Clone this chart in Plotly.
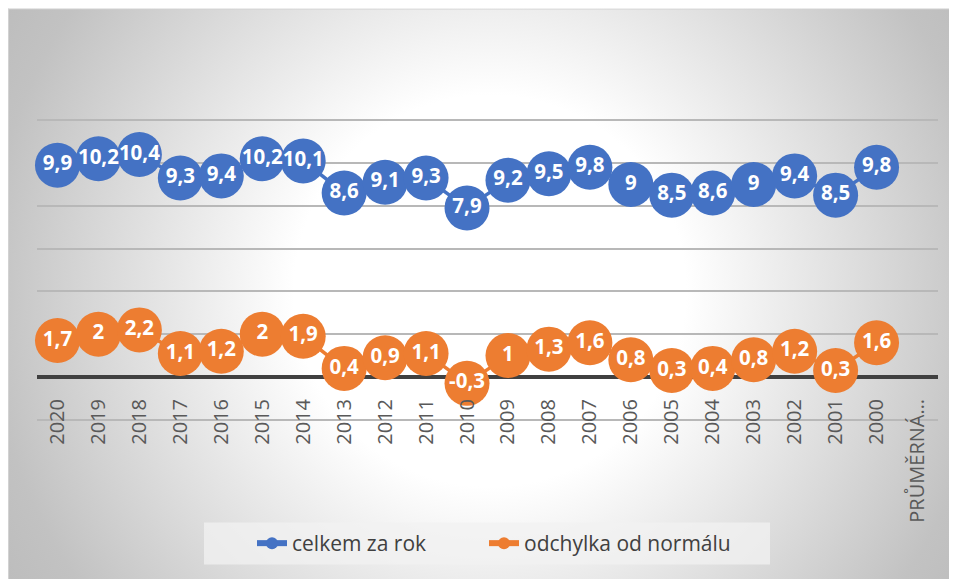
import base64
import plotly.graph_objs as go

# data
roky = ["2020", "2019", "2018", "2017", "2016", "2015", "2014", "2013", "2012", "2011",
        "2010", "2009", "2008", "2007", "2006", "2005", "2004", "2003", "2002", "2001",
        "2000", "PRŮMĚRNÁ…"]
celkem = [9.9, 10.2, 10.4, 9.3, 9.4, 10.2, 10.1, 8.6, 9.1, 9.3,
          7.9, 9.2, 9.5, 9.8, 9, 8.5, 8.6, 9, 9.4, 8.5,
          9.8, None]
odchylka = [1.7, 2, 2.2, 1.1, 1.2, 2, 1.9, 0.4, 0.9, 1.1,
            -0.3, 1, 1.3, 1.6, 0.8, 0.3, 0.4, 0.8, 1.2, 0.3,
            1.6, None]

nazvy = ["celkem za rok", "odchylka od normálu"]
barvy = ["#4472C4", "#ED7D31"]

W, H = 957, 579
OFF = 8  # page body margin, figure starts at (8, 8) on the page
grid_col = "#b8b8b8"

# y axis: 12 at page y=120, -2 at page y=420; pad a little so edge gridlines show
y_lo, y_hi, pad = -2, 12, 0.2
unit = (420 - 120) / (y_hi - y_lo)
L, R = 37, 938
T = 120 - pad * unit
B = 420 + pad * unit
pw, ph = R - L, B - T


def label(v):
    if v is None:
        return ""
    return f"{v:g}".replace(".", ",")


def px(xp):
    return (xp - L) / pw


def py(yp):
    return (B - yp) / ph


# radial gradient background of the chart area (like excel)
svg = f'''<svg xmlns="http://www.w3.org/2000/svg" width="{W}" height="{H}" viewBox="0 0 {W} {H}" preserveAspectRatio="none">
<defs><radialGradient id="g" gradientUnits="userSpaceOnUse" cx="482" cy="283" r="560">
<stop offset="0" stop-color="#ffffff"/><stop offset="0.35" stop-color="#ffffff"/>
<stop offset="0.9" stop-color="#c2c2c2"/><stop offset="1" stop-color="#bdbdbd"/>
</radialGradient></defs>
<rect x="0" y="0" width="{W}" height="{H}" fill="url(#g)"/>
<line x1="0" y1="0.5" x2="{W}" y2="0.5" stroke="#d2d2d2" stroke-width="1"/>
<line x1="0.5" y1="0" x2="0.5" y2="{H}" stroke="#d2d2d2" stroke-width="1"/>
</svg>'''
bg = "data:image/svg+xml;base64," + base64.b64encode(svg.encode("utf-8")).decode()

fig = go.Figure()

for serie, nazev, barva in zip([celkem, odchylka], nazvy, barvy):
    fig.add_trace(go.Scatter(
        x=roky, y=serie,
        mode="lines+markers+text",
        text=[label(v) for v in serie],
        textposition="middle center",
        textfont=dict(family="Open Sans", size=20.5, color="white", weight="bold"),
        line=dict(color=barva, width=3.5),
        marker=dict(color=barva, size=45, line=dict(width=0)),
        cliponaxis=False,
        showlegend=False,
        name=nazev,
    ))

# legend entries, each in its own legend box so the spacing matches
for nazev, barva, leg in zip(nazvy, barvy, ["legend", "legend2"]):
    fig.add_trace(go.Scatter(
        x=[None], y=[None], mode="lines+markers", name=nazev,
        line=dict(color=barva, width=6),
        marker=dict(color=barva, size=12),
        legend=leg,
    ))

leg_style = dict(
    orientation="h",
    xanchor="left",
    y=py(544), yanchor="middle",
    bgcolor="rgba(0,0,0,0)",
    font=dict(family="Open Sans", size=21, color="#404040"),
    itemsizing="trace",
)

fig.update_layout(
    width=W, height=H,
    margin=dict(l=L - OFF, r=W - R + OFF, t=T - OFF, b=H - B + OFF, pad=0),
    paper_bgcolor="white",
    plot_bgcolor="rgba(0,0,0,0)",
    font=dict(family="Open Sans", color="#595959"),
    images=[dict(
        source=bg, xref="paper", yref="paper",
        x=px(OFF), y=py(OFF),
        sizex=W / pw, sizey=H / ph,
        xanchor="left", yanchor="top",
        sizing="stretch", layer="below",
    )],
    shapes=[
        dict(
            type="rect", xref="paper", yref="paper", layer="below",
            x0=px(204), x1=px(770),
            y0=py(523), y1=py(565),
            fillcolor="rgba(242,242,242,0.75)", line=dict(width=0),
        ),
        # lowest gridline, behind the category labels
        dict(
            type="line", xref="paper", yref="y", layer="below",
            x0=0, x1=1, y0=y_lo, y1=y_lo,
            line=dict(color="#a8a8a8", width=1.5),
        ),
    ],
    legend=dict(leg_style, x=px(252)),
    legend2=dict(leg_style, x=px(484)),
    xaxis=dict(
        type="category",
        range=[-0.5, len(roky) - 0.5],
        showgrid=False, showline=False, zeroline=False,
        ticks="",
        tickangle=-90,
        tickfont=dict(family="Open Sans", size=20, color="#595959"),
        ticklabelstandoff=-30,
        fixedrange=True,
    ),
    yaxis=dict(
        range=[y_lo - pad, y_hi + pad], dtick=2,
        showticklabels=False,
        showgrid=True, gridcolor=grid_col, gridwidth=1.5,
        zeroline=True, zerolinecolor="#404040", zerolinewidth=3.5,
        showline=False,
        fixedrange=True,
    ),
)

fig.write_html("out.html")
